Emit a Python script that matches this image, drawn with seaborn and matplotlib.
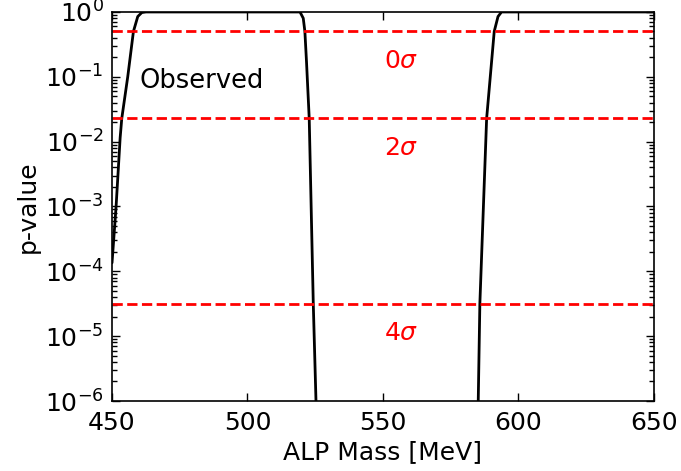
import matplotlib
matplotlib.use("Agg")
import matplotlib.pyplot as plt
from matplotlib.ticker import LogLocator, NullFormatter
import seaborn as sns
import numpy as np
import pandas as pd

# Observed p-value curve
mass = [450, 451.5, 453, 453.6, 455.8, 457.9, 459.5, 461, 462.5,
        519.4, 520.6, 521.2, 521.8, 522.8, 524.3, 525.3, 526, 555,
        584.5, 585.2, 585.8, 588.3, 591.1, 592.5, 593.8, 650]
pvalue = [1.35e-4, 1e-3, 1.15e-2, 2.28e-2, 0.1, 0.5, 0.85, 0.98, 1.0,
          1.0, 0.8, 0.5, 0.17, 0.0228, 3.17e-5, 1e-6, 1e-7, 1e-10,
          1e-7, 1e-6, 3.17e-5, 0.0228, 0.5, 0.85, 1.0, 1.0]

# significance reference lines
sig_labels = [r"0$\sigma$", r"2$\sigma$", r"4$\sigma$"]
sig_pvalues = [0.5, 0.02275, 3.167e-5]

x_ticks = [450, 500, 550, 600, 650]

sns.set_style("ticks")
plt.rcParams['font.family'] = ['DejaVu Sans']
plt.rcParams['text.color'] = 'black'
plt.rcParams['axes.labelcolor'] = 'black'
plt.rcParams['xtick.color'] = 'black'
plt.rcParams['ytick.color'] = 'black'
plt.rcParams['ytick.minor.visible'] = True

fig = plt.figure(figsize=(6.81, 4.71), dpi=100)
ax = fig.add_axes([0.1645, 0.1486, 0.7955, 0.826])

df = pd.DataFrame({"mass": mass, "pvalue": pvalue})
sns.lineplot(data=df, x="mass", y="pvalue", color="black", linewidth=2, ax=ax)

for lab, p in zip(sig_labels, sig_pvalues):
    ax.axhline(p, color="red", linestyle="--", linewidth=2)
    ax.text(550.3, p * 0.35, lab, color="red", fontsize=18, ha="left", va="center")

ax.text(460.3, 0.086, "Observed", color="black", fontsize=18.5, ha="left", va="center")

ax.set_yscale("log")
ax.set_xlim(450, 650)
ax.set_ylim(1e-6, 1)
ax.set_xticks(x_ticks)
ax.yaxis.set_major_locator(LogLocator(base=10, numticks=20))
ax.yaxis.set_minor_locator(LogLocator(base=10, subs=np.arange(2, 10), numticks=100))
ax.yaxis.set_minor_formatter(NullFormatter())
ax.set_xlabel("ALP Mass [MeV]", fontsize=18, labelpad=4)
ax.set_ylabel("p-value", fontsize=18, labelpad=4)
ax.tick_params(which="both", direction="in", top=True, right=True, left=True,
               bottom=True, labelsize=18, colors="black")
ax.tick_params(axis="x", which="major", length=6, width=1, pad=7)
ax.tick_params(axis="y", which="major", length=6, width=1, pad=6)
ax.tick_params(axis="y", which="minor", length=3.5, width=1)
for s in ax.spines.values():
    s.set_linewidth(1.2)
    s.set_color("black")

fig.savefig("out.png", dpi=100)
